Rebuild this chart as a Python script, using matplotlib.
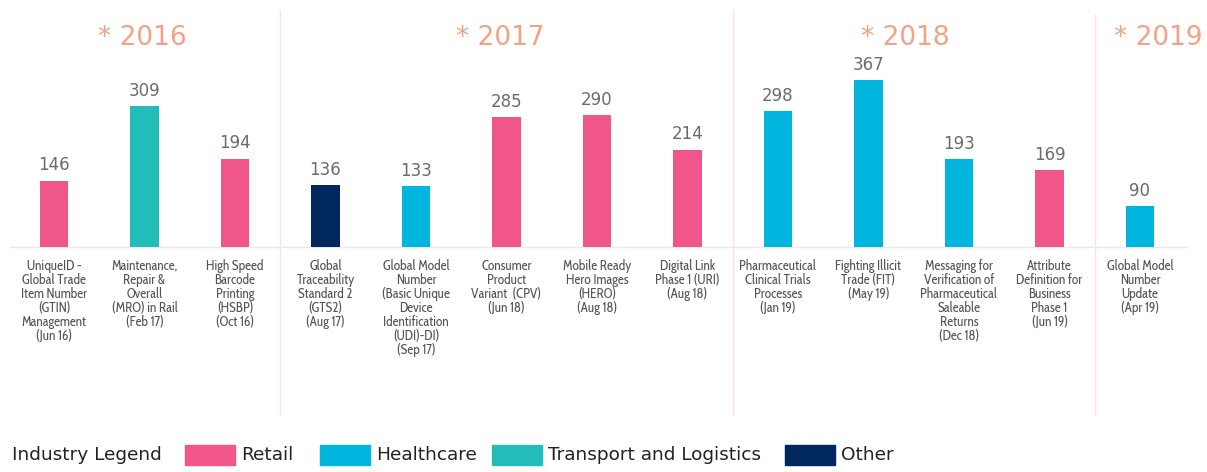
import matplotlib
matplotlib.use("Agg")
import matplotlib.pyplot as plt
from matplotlib.patches import Rectangle
from matplotlib import font_manager as fm

labels = [
    "UniqueID -\nGlobal Trade\nItem Number\n(GTIN)\nManagement\n(Jun 16)",
    "Maintenance,\nRepair &\nOverall\n(MRO) in Rail\n(Feb 17)",
    "High Speed\nBarcode\nPrinting\n(HSBP)\n(Oct 16)",
    "Global\nTraceability\nStandard 2\n(GTS2)\n(Aug 17)",
    "Global Model\nNumber\n(Basic Unique\nDevice\nIdentification\n(UDI)-DI)\n(Sep 17)",
    "Consumer\nProduct\nVariant  (CPV)\n(Jun 18)",
    "Mobile Ready\nHero Images\n(HERO)\n(Aug 18)",
    "Digital Link\nPhase 1 (URI)\n(Aug 18)",
    "Pharmaceutical\nClinical Trials\nProcesses\n(Jan 19)",
    "Fighting Illicit\nTrade (FIT)\n(May 19)",
    "Messaging for\nVerification of\nPharmaceutical\nSaleable\nReturns\n(Dec 18)",
    "Attribute\nDefinition for\nBusiness\nPhase 1\n(Jun 19)",
    "Global Model\nNumber\nUpdate\n(Apr 19)",
]
values = [146, 309, 194, 136, 133, 285, 290, 214, 298, 367, 193, 169, 90]
industry = ["Retail", "Transport and Logistics", "Retail", "Other", "Healthcare",
            "Retail", "Retail", "Retail", "Healthcare", "Healthcare", "Healthcare",
            "Retail", "Healthcare"]
years = ["* 2016", "* 2017", "* 2018", "* 2019"]
year_groups = [(0, 2), (3, 7), (8, 11), (12, 12)]
legend_items = ["Retail", "Healthcare", "Transport and Logistics", "Other"]

colors = {"Retail": "#F0568A", "Healthcare": "#00B6DE",
          "Transport and Logistics": "#22BDB8", "Other": "#00285E"}

W, H = 1207, 472
fig = plt.figure(figsize=(W / 100, H / 100), dpi=100)
renderer = fig.canvas.get_renderer()

# choose a label font whose proportions resemble the reference (Tahoma-like)
available = {f.name for f in fm.fontManager.ttflist}
cands = ["Tahoma", "PT Sans", "Fira Sans", "Fira Sans Condensed", "Barlow Semi Condensed",
         "Encode Sans Semi Condensed", "Asap", "Asap Condensed", "Roboto", "Roboto Condensed",
         "Source Sans 3", "Source Sans Pro", "Signika", "Ubuntu", "Ubuntu Condensed",
         "IBM Plex Sans Condensed", "Cabin Condensed", "Archivo Narrow", "Noto Sans",
         "Open Sans", "Lato", "DejaVu Sans", "PT Sans Narrow", "Liberation Sans"]
base_fs = 9.6
best, best_err, best_w = "DejaVu Sans", 1e9, None
for c in cands:
    if c not in available:
        continue
    t = fig.text(0, 0, "Pharmaceutical", fontsize=base_fs, family=c)
    w = t.get_window_extent(renderer).width
    t.remove()
    if abs(w - 77) < best_err:
        best, best_err, best_w = c, abs(w - 77), w
narrow = best
lab_fs = base_fs * 77.0 / best_w

ax = fig.add_axes([0, 0, 1, 1])
x0, dx = 54, 90.5
y0, sy = 247, 0.455
ax.set_xlim(-x0 / dx, (W - x0) / dx)
ax.set_ylim((y0 - H) / sy, y0 / sy)
ax.axis("off")

xs = list(range(len(values)))
ax.bar(xs, values, width=0.31, color=[colors[c] for c in industry], zorder=3)

# baseline
ax.plot([(10 - x0) / dx, (1187 - x0) / dx], [0, 0], color="#e8e8e8", lw=1, zorder=2)

for x, v, lab in zip(xs, values, labels):
    ax.annotate(str(v), (x, v), xytext=(0, 4.5), textcoords="offset points",
                ha="center", va="bottom", fontsize=12, color="#6b6b6b")
    ax.annotate(lab, (x, 0), xytext=(0, -8.5), textcoords="offset points",
                ha="center", va="top", fontsize=lab_fs, color="#555555",
                family=narrow, linespacing=1.0)

# separators
for (a, b), ystart in zip(year_groups[:-1], [10, 10, 15]):
    ax.axvline(b + 0.5, ymin=1 - 415 / H, ymax=1 - ystart / H, color="#fbe1d8", lw=1, zorder=1)

year_x = [142, 500, 905, 1158]
for yl, px in zip(years, year_x):
    ax.text((px - x0) / dx, (y0 - 38) / sy, yl, ha="center", va="center",
            fontsize=19, color="#F4A285")

# legend
fig.text(12 / W, 1 - 455 / H, "Industry Legend", ha="left", va="center",
         fontsize=13.3, color="#222222")
patch_x = [185, 320, 492, 785]
for name, px in zip(legend_items, patch_x):
    fig.patches.append(Rectangle((px / W, 1 - 465 / H), 50 / W, 20 / H,
                                 transform=fig.transFigure, color=colors[name]))
    fig.text((px + 56) / W, 1 - 455 / H, name, ha="left", va="center",
             fontsize=13.3, color="#222222")

fig.savefig("out.png", dpi=100)
